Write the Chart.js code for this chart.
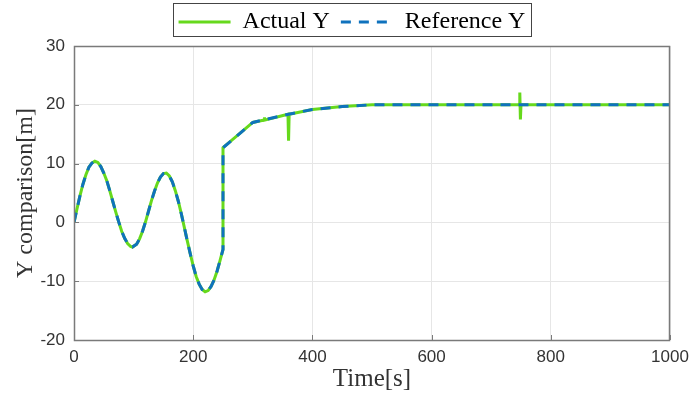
<!DOCTYPE html>
<html>
<head>
<meta charset="utf-8">
<title>Y comparison</title>
<script src="https://cdn.jsdelivr.net/npm/chart.js@4.4.0/dist/chart.umd.min.js"></script>
<style>
    html, body { margin: 0; padding: 0; background: #fff; }
</style>
</head>
<body>
<canvas id="yChart" width="690" height="396"></canvas>
<script>
// --- 1. Data ---

// Reference Y (dashed blue)
const refTime = [
    0, 5, 10, 15, 20, 25, 30, 35, 40, 45, 50, 55, 60, 65, 70, 75, 80, 85, 90, 95, 98,
    105, 110, 115, 120, 125, 130, 135, 140, 145, 150, 155, 160, 165, 170, 175, 180,
    185, 190, 195, 200, 205, 210, 215, 220, 225, 230, 235, 240, 245, 250, 250,
    300, 360, 400, 450, 500, 600, 700, 800, 900, 1000
];
const refY = [
    0, 2.3, 4.5, 6.5, 8.1, 9.4, 10.1, 10.4, 10.2, 9.5, 8.4, 7.1, 5.4, 3.6, 1.8, 0.1, -1.5, -2.7, -3.6, -4.1, -4.2,
    -3.7, -2.8, -1.5, 0.1, 1.9, 3.7, 5.3, 6.7, 7.7, 8.3, 8.4, 7.9, 6.9, 5.4, 3.6, 1.5,
    -0.8, -3.1, -5.3, -7.4, -9.2, -10.5, -11.4, -11.8, -11.6, -10.9, -9.8, -8.3, -6.5, -4.6, 12.7,
    17.0, 18.4, 19.2, 19.7, 20.0, 20.0, 20.0, 20.0, 20.0, 20.0
];

// Actual Y (solid green) - follows the reference, with a few short spikes
const actTime = [
    0, 5, 10, 15, 20, 25, 30, 35, 40, 45, 50, 55, 60, 65, 70, 75, 80, 85, 90, 95, 98,
    105, 110, 115, 120, 125, 130, 135, 140, 145, 150, 155, 160, 165, 170, 175, 180,
    185, 190, 195, 200, 205, 210, 215, 220, 225, 230, 235, 240, 245, 250, 250,
    300, 319, 319.5, 320, 359, 360, 361, 400, 450, 500, 600, 700, 747, 748, 749, 750,
    800, 900, 1000
];
const actY = [
    0, 2.3, 4.5, 6.5, 8.1, 9.4, 10.1, 10.4, 10.2, 9.5, 8.4, 7.1, 5.4, 3.6, 1.8, 0.1, -1.5, -2.7, -3.6, -4.1, -4.2,
    -3.7, -2.8, -1.5, 0.1, 1.9, 3.7, 5.3, 6.7, 7.7, 8.3, 8.4, 7.9, 6.9, 5.4, 3.6, 1.5,
    -0.8, -3.1, -5.3, -7.4, -9.2, -10.5, -11.4, -11.8, -11.6, -10.9, -9.8, -8.3, -6.5, -4.6, 12.7,
    17.0, 17.4, 17.9, 17.4, 18.4, 13.9, 18.4, 19.2, 19.7, 20.0, 20.0, 20.0, 20.0, 22.1, 17.5, 20.0,
    20.0, 20.0, 20.0
];

// Axis ticks
const xTicks = [0, 200, 400, 600, 800, 1000];
const yTicks = [-20, -10, 0, 10, 20, 30];

const seriesLabels = ['Actual Y', 'Reference Y'];

// --- 2. Styles ---
const GREEN = '#66d91c';
const BLUE = '#0f72bd';
const AXIS_COLOR = '#7a7a7a';
const GRID_COLOR = '#e6e6e6';
const SERIF = '"Liberation Serif", "Times New Roman", serif';
const SANS = '"Liberation Sans", Arial, sans-serif';

function toPoints(xs, ys) {
    return xs.map((x, i) => ({ x: x, y: ys[i] }));
}

// Box around the plot, inward tick marks, and a frame around the legend
const framePlugin = {
    id: 'matlabFrame',
    afterLayout(chart) {
        // legend sits a little right of centre and a bit higher in the original
        chart.legend.left += 17;
        chart.legend.right += 17;
        chart.legend.top -= 2;
        chart.legend.bottom -= 2;
    },
    afterDraw(chart) {
        const ctx = chart.ctx;
        const area = chart.chartArea;
        const xs = chart.scales.x;
        const ys = chart.scales.y;
        ctx.save();
        ctx.strokeStyle = AXIS_COLOR;
        ctx.lineWidth = 1.5;
        ctx.strokeRect(Math.round(area.left) + 0.5, Math.round(area.top) + 0.5,
            Math.round(area.right - area.left) - 1, Math.round(area.bottom - area.top));

        const len = 5;
        ctx.lineWidth = 1;
        ctx.beginPath();
        xTicks.forEach(v => {
            const px = Math.round(xs.getPixelForValue(v)) + 0.5;
            ctx.moveTo(px, area.bottom); ctx.lineTo(px, area.bottom - len);
        });
        yTicks.forEach(v => {
            const py = Math.round(ys.getPixelForValue(v)) + 0.5;
            ctx.moveTo(area.left, py); ctx.lineTo(area.left + len, py);
        });
        ctx.stroke();

        // legend frame
        const boxes = chart.legend.legendHitBoxes;
        if (boxes && boxes.length) {
            const first = boxes[0];
            const last = boxes[boxes.length - 1];
            const l = first.left - 6;
            const r = last.left + last.width + 5;
            const t = first.top - 7;
            const b = first.top + 26;
            ctx.strokeStyle = '#444';
            ctx.lineWidth = 1;
            ctx.strokeRect(Math.round(l) + 0.5, Math.round(t) + 0.5, Math.round(r - l), Math.round(b - t));
        }
        ctx.restore();
    }
};

// --- 3. Chart ---
const ctx = document.getElementById('yChart').getContext('2d');

new Chart(ctx, {
    type: 'line',
    data: {
        datasets: [
            {
                label: seriesLabels[0],
                data: toPoints(actTime, actY),
                borderColor: GREEN,
                backgroundColor: GREEN,
                borderWidth: 3,
                pointRadius: 0,
                tension: 0,
                order: 1
            },
            {
                label: seriesLabels[1],
                data: toPoints(refTime, refY),
                borderColor: BLUE,
                backgroundColor: BLUE,
                borderWidth: 3,
                borderDash: [10, 8],
                pointRadius: 0,
                tension: 0,
                order: 0
            }
        ]
    },
    options: {
        responsive: false,
        animation: false,
        layout: { padding: { left: 0, right: 20, top: 0, bottom: 0 } },
        plugins: {
            legend: {
                position: 'top',
                labels: {
                    usePointStyle: true,
                    pointStyle: 'line',
                    pointStyleWidth: 52,
                    padding: 11,
                    color: '#000',
                    font: { family: SERIF, size: 24 },
                    sort: (a, b) => a.datasetIndex - b.datasetIndex,
                    generateLabels: chart => {
                        const items = Chart.defaults.plugins.legend.labels.generateLabels(chart);
                        items.forEach(item => {
                            const ds = chart.data.datasets[item.datasetIndex];
                            item.lineDash = ds.borderDash || [];
                            item.lineWidth = 3;
                            item.strokeStyle = ds.borderColor;
                        });
                        return items;
                    }
                }
            },
            tooltip: { enabled: false }
        },
        scales: {
            x: {
                type: 'linear',
                min: 0,
                max: 1000,
                afterBuildTicks: scale => { scale.ticks = xTicks.map(v => ({ value: v })); },
                afterFit: scale => {
                    scale.height = 56;
                    scale.paddingRight = 20;
                },
                grid: { color: GRID_COLOR, drawTicks: false },
                border: { display: false },
                ticks: {
                    color: '#333',
                    padding: 7,
                    maxRotation: 0,
                    font: { family: SANS, size: 17 },
                    callback: v => String(v)
                },
                title: {
                    display: true,
                    text: 'Time[s]',
                    color: '#333',
                    font: { family: SERIF, size: 25 },
                    padding: { top: 0, bottom: 2 }
                }
            },
            y: {
                min: -20,
                max: 30,
                afterBuildTicks: scale => { scale.ticks = yTicks.map(v => ({ value: v })); },
                afterFit: scale => {
                    scale.width = 74;
                    scale.paddingTop = 46;
                },
                grid: { color: GRID_COLOR, drawTicks: false },
                border: { display: false },
                ticks: {
                    color: '#333',
                    padding: 9,
                    font: { family: SANS, size: 17 },
                    callback: v => String(v)
                },
                title: {
                    display: true,
                    text: 'Y comparison[m]',
                    color: '#333',
                    font: { family: SERIF, size: 24 },
                    padding: { top: 11, bottom: 0 }
                }
            }
        }
    },
    plugins: [framePlugin]
});
</script>
</body>
</html>
